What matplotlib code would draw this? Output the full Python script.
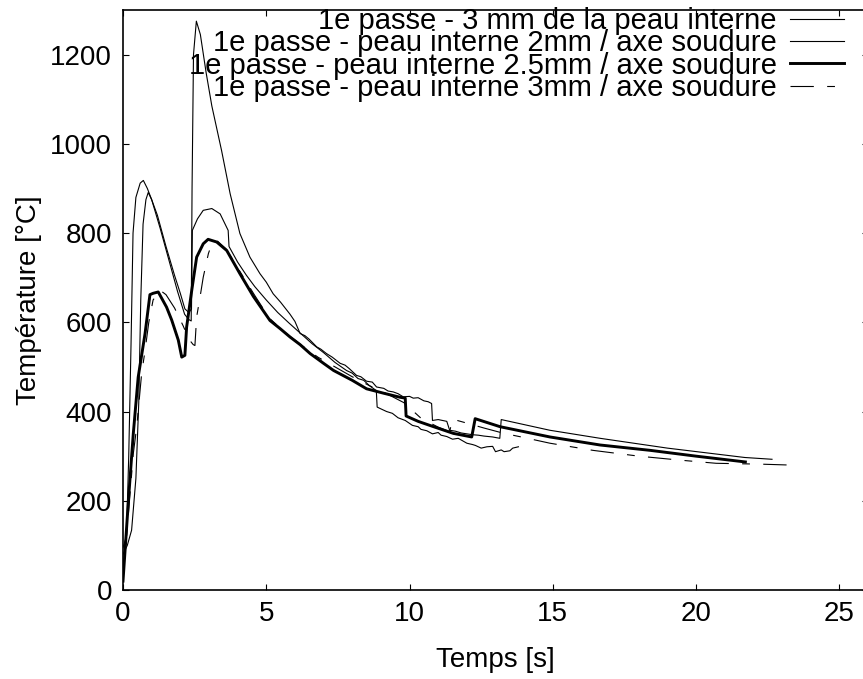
import matplotlib
matplotlib.use("Agg")
import matplotlib.pyplot as plt

plt.rcParams['font.family'] = ['Liberation Sans', 'DejaVu Sans']

labels = [
    "1e passe - 3 mm de la peau interne",
    "1e passe - peau interne 2mm / axe soudure",
    "1e passe - peau interne 2.5mm / axe soudure",
    "1e passe - peau interne 3mm / axe soudure",
]

# Series 1: thin solid, noisy, ends at ~13.8 s
t1 = [0.0, 0.15, 0.3, 0.45, 0.55, 0.62, 0.7, 0.8, 0.88, 1.0, 1.2, 1.5, 1.8, 2.0, 2.16,
      2.3, 2.39, 2.42, 2.6, 2.8, 3.1, 3.39, 3.67, 3.7, 4.0, 4.3, 4.6, 5.0, 5.4, 5.8,
      6.2, 6.6, 7.0, 7.4, 7.8, 8.0, 8.2, 8.4, 8.6, 8.84, 8.87, 9.0, 9.2, 9.4, 9.6,
      9.85, 10.1, 10.3, 10.4, 10.6, 10.8, 11.0, 11.1, 11.3, 11.5, 11.7, 12.0, 12.2,
      12.3, 12.5, 12.7, 12.9, 13.0, 13.2, 13.3, 13.5, 13.6, 13.8]
T1 = [80, 100, 134, 250, 420, 650, 820, 875, 891, 875, 840, 770, 705, 665, 630,
      622, 630, 806, 832, 851, 855, 843, 806, 770, 735, 706, 680, 650, 622, 598,
      575, 552, 532, 510, 492, 486, 474, 470, 458, 447, 410, 406, 400, 396, 386,
      380, 369, 366, 360, 357, 350, 353, 347, 344, 338, 340, 329, 326,
      324, 318, 321, 322, 310, 314, 310, 312, 318, 321]

# Series 2: thin solid with the large spike, ends at ~22.6 s
t2 = [0.0, 0.12, 0.2, 0.28, 0.35, 0.45, 0.6, 0.71, 0.85, 1.0, 1.3, 1.6, 1.9, 2.15,
      2.3, 2.38, 2.41, 2.46, 2.56, 2.7, 2.9, 3.1, 3.44, 3.74, 4.08, 4.43, 4.78,
      5.0, 5.24, 5.5, 5.83, 6.0, 6.18, 6.35, 6.5, 6.76, 6.9, 7.1, 7.3, 7.58, 7.75,
      7.9, 8.15, 8.3, 8.5, 8.7, 8.85, 9.1, 9.25, 9.43, 9.6, 9.78, 10.0, 10.13, 10.3,
      10.5, 10.65, 10.77, 10.8, 11.0, 11.3, 11.4, 11.6, 11.8, 12.0, 12.2, 12.4,
      12.6, 12.9, 13.15, 13.2, 14.9, 16.65, 19.0, 21.7, 22.65]
T2 = [95, 120, 300, 550, 800, 880, 912, 918, 900, 875, 810, 740, 670, 618,
      606, 603, 900, 1200, 1275, 1245, 1160, 1085, 985, 888, 799, 746, 709,
      690, 664, 645, 618, 602, 575, 570, 562, 545, 540, 530, 522, 508, 504,
      496, 481, 478, 468, 466, 455, 452, 446, 444, 440, 433, 434, 430, 431,
      424, 422, 418, 380, 382, 378, 358, 356, 352, 350, 348, 347,
      345, 343, 340, 382, 358, 340, 318, 297, 293]

# Series 3: thick solid, ends at ~21.7 s
t3 = [0.0, 0.19, 0.36, 0.53, 0.77, 0.94, 1.05, 1.23, 1.52, 1.7, 1.93, 2.05, 2.16,
      2.22, 2.4, 2.57, 2.8, 2.97, 3.27, 3.62, 4.08, 4.55, 5.13, 5.48, 5.83, 6.18,
      6.53, 7.0, 7.35, 8.0, 8.5, 9.1, 9.67, 9.85, 9.88, 10.3, 10.84, 11.53, 12.17,
      12.29, 13.16, 14.9, 16.65, 18.4, 20.0, 21.72]
T3 = [20, 201, 351, 477, 575, 662, 665, 668, 634, 605, 560, 522, 526,
      589, 672, 746, 776, 786, 780, 761, 709, 658, 604, 586, 567, 550,
      530, 508, 492, 470, 451, 441, 432, 430, 390, 378, 366, 351, 343,
      384, 366, 343, 325, 313, 300, 287]

# Series 4: dashed, ends at ~23.3 s
t4 = [0.0, 0.1, 0.2, 0.36, 0.48, 0.65, 0.77, 0.9, 1.05, 1.29, 1.5, 1.8, 2.1, 2.3,
      2.45, 2.51, 2.57, 2.69, 2.8, 2.98, 3.1, 3.3, 3.6, 4.1, 4.6, 5.1, 5.6, 6.2,
      6.8, 7.4, 8.0, 8.6, 9.2, 9.8, 10.4, 11.0, 11.4, 11.5, 12.0, 12.6, 13.3,
      13.9, 14.9, 16.4, 18.0, 19.45, 20.7, 22.3, 23.3]
T4 = [40, 100, 180, 306, 366, 485, 537, 600, 650, 672, 662, 632, 592, 562,
      550, 548, 612, 657, 701, 754, 776, 782, 764, 712, 660, 610, 580, 550,
      522, 500, 478, 458, 440, 420, 385, 365, 355, 383, 374, 363, 351,
      343, 329, 313, 300, 291, 284, 282, 280]

xticks = [0, 5, 10, 15, 20, 25]
yticks = [0, 200, 400, 600, 800, 1000, 1200]

fig = plt.figure(figsize=(8.63, 6.79), dpi=100)
ax = fig.add_axes([123 / 863, (679 - 590) / 679, (868 - 123) / 863, (590 - 10) / 679])

ax.plot(t1, T1, color='black', lw=0.8, label=labels[0])
ax.plot(t2, T2, color='black', lw=0.8, label=labels[1])
ax.plot(t3, T3, color='black', lw=2.1, label=labels[2])
ax.plot(t4, T4, color='black', lw=0.8, dashes=(21, 12, 7, 12), label=labels[3])

ax.set_xlim(0, 26)
ax.set_ylim(0, 1300)
ax.set_xticks(xticks)
ax.set_yticks(yticks)
ax.tick_params(direction='in', length=4.5, width=0.8, top=True, right=True,
               labelsize=20, pad=8, colors='black')
for s in ax.spines.values():
    s.set_linewidth(1.2)

ax.set_xlabel("Temps [s]", fontsize=20, labelpad=14)
ax.set_ylabel("Température [°C]", fontsize=20, labelpad=6)

leg = ax.legend(loc='upper right', bbox_to_anchor=(0.995, 1.04), frameon=False,
                markerfirst=False, fontsize=21, labelspacing=-0.2,
                handlelength=1.85, handletextpad=0.45, borderpad=0.2)

fig.savefig("out.png", dpi=100)
